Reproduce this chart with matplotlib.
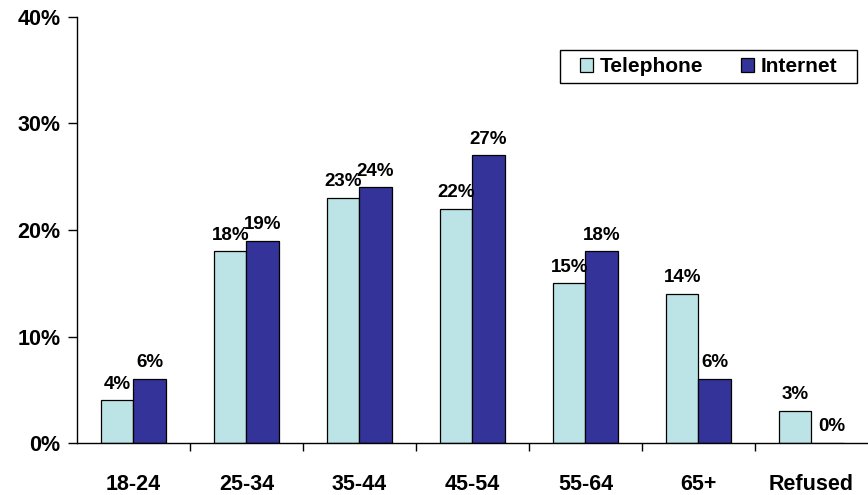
import numpy as np
import matplotlib.pyplot as plt
from matplotlib.ticker import FuncFormatter
from matplotlib.patches import Rectangle

categories = ['18-24', '25-34', '35-44', '45-54', '55-64', '65+', 'Refused']
telephone = [4, 18, 23, 22, 15, 14, 3]
internet = [6, 19, 24, 27, 18, 6, 0]

plt.rcParams['font.family'] = ['Liberation Sans', 'DejaVu Sans']
plt.rcParams['font.weight'] = 'bold'

fig = plt.figure(figsize=(8.68, 4.95), dpi=100)
ax = fig.add_axes([0.0887, 0.105, 0.9113, 0.8607])

x = np.arange(len(categories))
w = 0.285
b1 = ax.bar(x - w / 2, telephone, w, color='#BCE3E5', edgecolor='black',
            linewidth=0.9, label='Telephone')
b2 = ax.bar(x + w / 2, internet, w, color='#333399', edgecolor='black',
            linewidth=0.9, label='Internet')

for bars, vals in [(b1, telephone), (b2, internet)]:
    for rect, v in zip(bars, vals):
        dx = 3 if v == 0 else 0
        ax.annotate(f'{v}%', (rect.get_x() + rect.get_width() / 2, v),
                    xytext=(dx, 5.5), textcoords='offset points',
                    ha='center', va='bottom', fontsize=13.5, fontweight='bold')

ax.set_xlim(-0.5, len(categories) - 0.5)
ax.set_ylim(0, 40)
ax.set_yticks([0, 10, 20, 30, 40])
ax.yaxis.set_major_formatter(FuncFormatter(lambda v, p: f'{v:.0f}%'))
ax.set_xticks(x)
ax.set_xticklabels(categories)
ax.set_xticks(np.arange(len(categories) - 1) + 0.5, minor=True)
ax.tick_params(axis='x', which='major', length=0, pad=22, labelsize=15.5)
ax.tick_params(axis='x', which='minor', length=6, width=1, direction='out')
ax.tick_params(axis='y', length=6.5, width=1, direction='out', pad=5.5, labelsize=15.5)

for s in ['top', 'right']:
    ax.spines[s].set_visible(False)
for s in ['left', 'bottom']:
    ax.spines[s].set_linewidth(1)

leg = ax.legend(loc='upper right', bbox_to_anchor=(0.961, 0.906), ncol=2,
                frameon=False, fontsize=15, borderpad=0, borderaxespad=0,
                handlelength=0.65, handleheight=0.65, columnspacing=1.8,
                handletextpad=0.3)
for h in leg.legend_handles:
    h.set_linewidth(0.9)

# box around the legend, wider padding left/right than top/bottom
fig.canvas.draw()
bb = leg.get_window_extent()
px, py = 20, 7
frame = Rectangle((bb.x0 - px, bb.y0 - py), bb.width + 2 * px, bb.height + 2 * py,
                  transform=None, fill=False, edgecolor='black', linewidth=1)
fig.patches.append(frame)

fig.savefig('out.png', dpi=100)
